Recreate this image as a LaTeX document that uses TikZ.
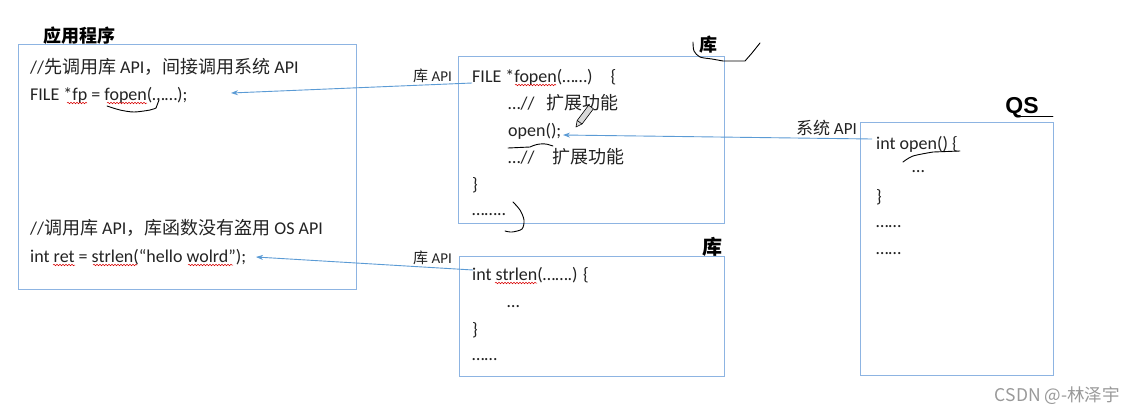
\documentclass[tikz,border=0pt]{standalone}
\usepackage{fontspec}
\setmainfont{Carlito}
\newfontfamily\cjk{Noto Sans CJK SC}
\newfontfamily\arialf{Liberation Sans}
\usetikzlibrary{arrows.meta,decorations.pathmorphing}
\definecolor{boxblue}{RGB}{141,180,226}
\definecolor{arrblue}{RGB}{91,155,213}
\definecolor{txt}{RGB}{35,35,35}
\newcommand\zh[1]{{\cjk #1}}
\begin{document}
\begin{tikzpicture}[x=1pt,y=-1pt,
  box/.style={draw=boxblue, line width=1.1pt, anchor=north west, inner sep=0pt},
  code/.style={anchor=base west, inner sep=0pt, text=txt, font=\fontsize{18}{20}\selectfont},
  lbl/.style={anchor=base east, inner sep=0pt, text=txt},
  ttl/.style={inner sep=0pt, text=black, font=\cjk\bfseries\fontsize{18}{20}\selectfont},
  conn/.style={draw=arrblue, line width=0.9pt, -{Stealth[length=7pt,width=5pt]}},
  ink/.style={draw=black, line width=0.9pt, line cap=round, line join=round},
  wave/.style={draw=red!85!black, line width=0.5pt, decorate, decoration={snake, amplitude=0.8pt, segment length=3pt}},
]
\useasboundingbox[fill=white] (0,0) rectangle (1135,416);

% boxes
\node[box, minimum width=338pt, minimum height=245pt] (app) at (18,44) {};
\node[box, minimum width=266pt, minimum height=167pt] (lib1) at (458,56) {};
\node[box, minimum width=265pt, minimum height=120pt] (lib2) at (459,256) {};
\node[box, minimum width=193pt, minimum height=253pt] (os) at (860,122) {};

% titles
\node[ttl] (t1) at (79,36) {应用程序};
\node[ttl] (t2) at (708,45) {库};
\node[ttl, font=\cjk\bfseries\fontsize{20}{22}\selectfont] (t3) at (712,247) {库};
\node[inner sep=0pt, font=\arialf\bfseries\fontsize{23}{26}\selectfont] (t4) at (1022,107.5) {QS};

% app text
\node[code] (a1) at (30,73) {//\zh{先调用库} API\zh{，间接调用系统} API};
\node[code] (a2) at (30,100) {FILE *fp = fopen(……);};
\node[code] (a3) at (30,234) {//\zh{调用库} API\zh{，库函数没有盗用} OS API};
\node[code] (a4) at (30,262) {int ret = strlen(“hello wolrd”);};

% lib1 text
\node[code] (b1) at (472,82) {FILE *fopen(……)\hspace{18pt}\{};
\node[code] (b2) at (508,109) {…//\hspace{12pt}\zh{扩展功能}};
\node[code] (b3) at (508,136) {open();};
\node[code] (b4) at (508,163) {…//\hspace{18pt}\zh{扩展功能}};
\node[code] (b5) at (472,190) {\}};
\node[code] (b6) at (472,215) {……..};

% lib2 text
\node[code] (c1) at (472,280) {int strlen(…….) \{};
\node[code] (c2) at (507,307) {…};
\node[code] (c3) at (472,335) {\}};
\node[code] (c4) at (472,360) {……};

% os text
\node[code] (d1) at (876,149) {int open() \{};
\node[code] (d2) at (912,172) {…};
\node[code] (d3) at (876,202) {\}};
\node[code] (d4) at (876,227) {……};
\node[code] (d5) at (876,254) {……};

% labels
\node[lbl, font=\fontsize{15}{18}\selectfont] (l1) at (452,81) {\zh{库} API};
\node[lbl, font=\fontsize{15}{18}\selectfont] (l2) at (452,263) {\zh{库} API};
\node[lbl, font=\fontsize{17}{20}\selectfont] (l3) at (857,134) {\zh{系统} API};

% connectors
\coordinate (p1s) at (472,83);  \coordinate (p1e) at (231,93);
\coordinate (p2s) at (473,270); \coordinate (p2e) at (256,257);
\coordinate (p3s) at (872,139); \coordinate (p3e) at (563,135);
\draw[conn] (p1s) -- (p1e);
\draw[conn] (p2s) -- (p2e);
\draw[conn] (p3s) -- (p3e);

% spell-check waves
\draw[wave] (67,103) -- (87,103);
\draw[wave] (107,103) -- (147,103);
\draw[wave] (515,85) -- (556,85);
\draw[wave] (53,265) -- (75,265);
\draw[wave] (93,265) -- (137,265);
\draw[wave] (188,265) -- (233,265);
\draw[wave] (495,283) -- (537,283);

% hand-drawn marks
\draw[ink] plot[smooth] coordinates {(107,106) (120,110) (134,112) (150,110) (156,108)} -- (159,100);
\draw[ink] plot[smooth] coordinates {(693,42) (694,51) (700,57) (712,59) (723,61)} -- (745,61) -- (752,53) -- (760,43);
\draw[ink] plot[smooth] coordinates {(513,202) (520,210) (524,220) (522,229) (512,232) (505,231)};
\draw[ink] (508,148) -- (530,147) .. controls (538,143) and (546,143) .. (553,146);
\draw[ink] plot[smooth] coordinates {(903,162) (913,156) (933,152)} -- (960,151);
\draw[ink] (1018,116) -- (1053,116);
% pencil
\draw[black, line width=0.6pt, fill=gray!30, line join=round] (576,127) -- (582,124) -- (593.4,108.8) -- (588.6,105.2) -- (577.2,120.4) -- cycle;
\draw[black, line width=0.6pt] (582,124) -- (577.2,120.4);

% watermark
\node[anchor=east, inner sep=0pt, text=gray!80, font=\cjk\fontsize{17.5}{20}\selectfont] (wm) at (1120,396) {CSDN @-林泽宇};
\end{tikzpicture}
\end{document}
